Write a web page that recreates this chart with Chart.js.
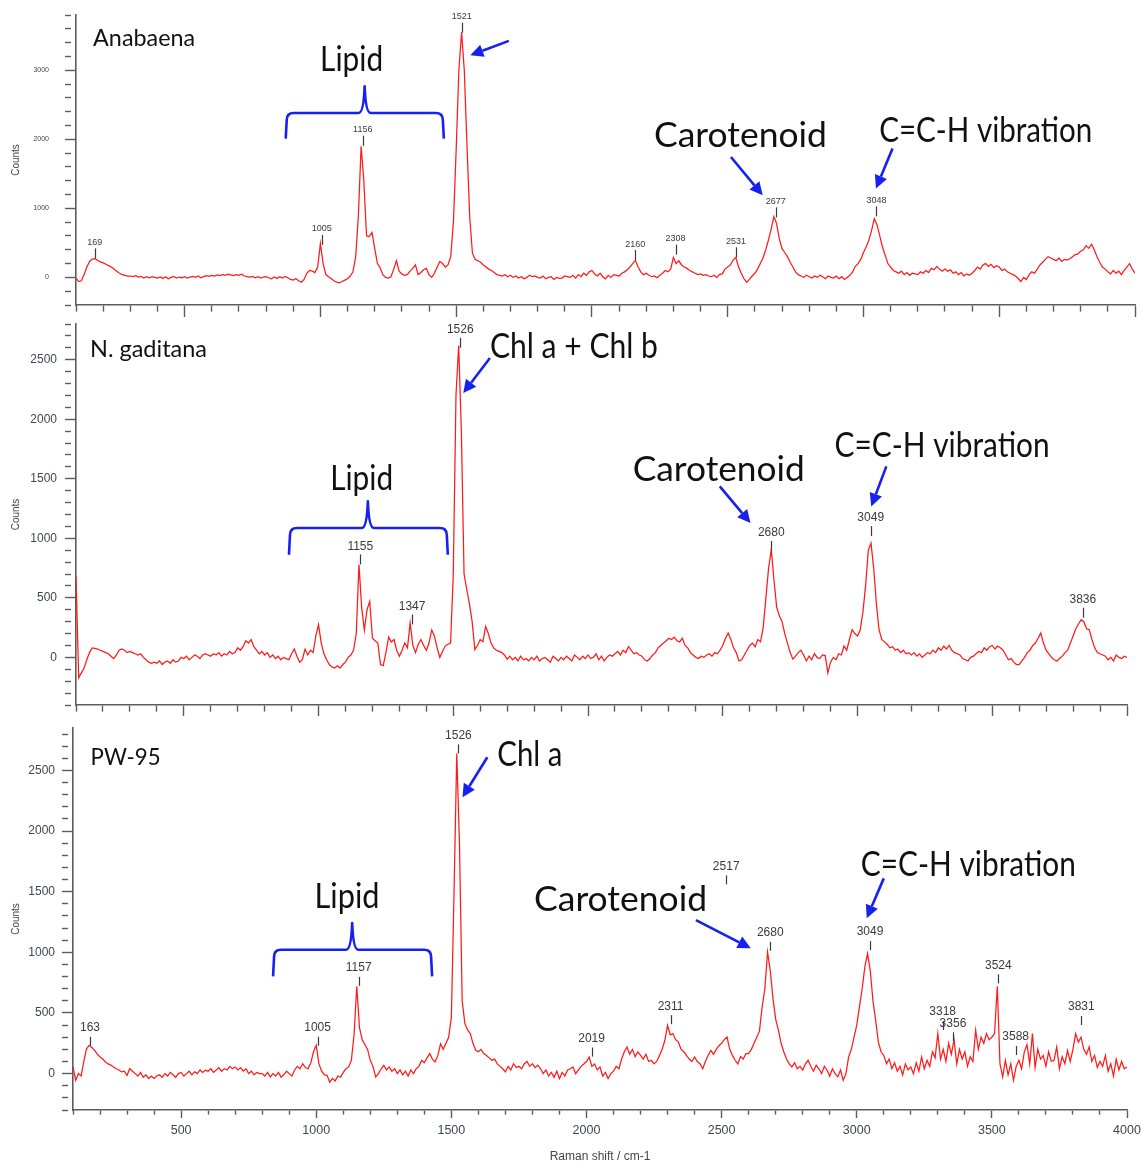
<!DOCTYPE html>
<html>
<head>
<meta charset="utf-8">
<script src="https://cdn.jsdelivr.net/npm/chart.js@4.4.1/dist/chart.umd.min.js"></script>
<style>
  html, body { margin: 0; padding: 0; background: #fff; }
  #wrap { position: relative; width: 1142px; height: 1164px; }
  #wrap canvas { position: absolute; left: 0; }
</style>
</head>
<body>
<div id="wrap">
  <canvas id="c1" width="1142" height="330" style="top:0"></canvas>
  <canvas id="c2" width="1142" height="410" style="top:310px"></canvas>
  <canvas id="c3" width="1142" height="449" style="top:715px"></canvas>
</div>
<script>
// Raman spectra, one count value every 10 cm-1 from 100 to 4000
const SHIFT_START = 100;
const SHIFT_STEP = 10;

const ANABAENA = [
  -10,-60,-50,40,150,230,265,270,245,225,
  210,190,170,150,120,90,60,40,30,20,
  20,10,25,5,15,-10,10,-5,10,0,
  -10,5,-15,10,-20,0,15,-10,5,-5,
  10,-10,5,15,0,20,-5,10,25,15,
  30,20,35,25,40,30,45,35,25,40,
  30,45,20,10,5,15,-5,10,-10,5,
  10,-5,-20,5,-15,10,-10,15,-5,-30,
  -40,-20,-50,-70,-30,60,100,90,70,150,
  490,200,40,10,-20,-50,-70,-80,-60,-40,
  -20,20,80,300,900,1900,1400,600,590,650,
  420,200,140,40,0,-10,10,120,240,90,
  50,30,40,90,130,180,40,70,110,130,
  40,0,60,150,230,200,150,180,300,800,
  1840,3000,3550,3000,1900,870,350,260,240,220,
  180,150,120,100,70,40,30,20,40,10,
  30,0,20,-10,10,-20,0,30,10,20,
  0,-10,20,-20,0,10,-30,0,-15,-10,
  20,10,0,30,-10,40,10,60,30,80,
  100,50,20,60,10,-20,30,0,40,30,
  20,60,80,110,150,200,250,150,80,40,
  60,30,10,20,-5,30,60,100,80,120,
  290,200,240,180,150,130,100,80,60,40,
  50,30,40,20,10,30,0,40,50,120,
  150,180,250,290,150,60,-20,-70,-30,20,
  60,120,200,280,400,540,700,880,780,560,
  420,360,300,220,150,80,40,20,0,30,
  10,-10,20,0,30,10,-20,20,0,-10,
  20,-20,10,-30,0,30,80,160,200,260,
  360,440,540,680,850,760,600,440,320,200,
  150,100,80,60,90,40,70,30,60,50,
  40,80,60,100,70,130,110,160,120,90,
  120,90,110,60,80,40,70,20,50,30,
  60,100,150,120,180,200,160,190,140,170,
  150,100,120,80,60,40,20,-20,-60,0,
  -30,40,80,60,120,180,220,260,300,280,
  260,240,280,230,260,250,270,300,330,340,
  380,400,460,420,480,400,300,220,150,120,
  80,50,100,60,90,40,100,150,200,120,
  60
];

const GADITANA = [
  680,-170,-130,-90,-20,40,80,75,70,60,
  50,40,30,10,-10,20,60,70,60,40,
  50,40,30,20,30,0,-20,-40,-50,-40,
  -50,-30,-60,-40,-30,-50,-20,-40,-30,0,
  -10,10,-20,0,20,10,-10,20,30,20,
  10,30,20,40,10,30,20,50,30,40,
  80,60,90,140,120,150,90,60,30,50,
  20,40,0,20,-10,10,-20,0,-10,-20,
  30,70,10,-40,-20,70,20,60,40,180,
  275,120,30,-20,-60,-80,-90,-70,-90,-60,
  -40,0,20,60,200,780,420,230,400,470,
  160,140,120,-60,-70,40,170,130,150,60,
  10,60,120,80,290,100,40,110,150,100,
  60,120,230,180,80,0,50,95,110,120,
  700,2200,2620,1900,700,570,450,300,65,100,
  150,130,260,200,120,80,60,50,40,20,
  -15,10,-20,0,-30,10,-20,-10,-30,0,
  -20,10,-30,-10,0,-20,-40,10,-10,-30,
  0,-20,10,-10,-30,20,0,-20,10,-10,
  20,-10,0,30,-20,10,-30,0,20,10,
  30,50,20,60,40,90,60,30,40,20,
  10,-20,-30,-10,20,40,80,100,120,140,
  160,150,170,140,130,160,100,80,40,20,
  0,-10,10,0,20,30,10,40,30,60,
  100,160,205,150,80,40,-30,-20,20,60,
  100,120,90,150,130,250,500,750,905,650,
  420,350,300,200,120,40,-15,10,40,60,
  20,-30,10,-20,30,0,-10,20,15,-130,
  -40,0,-20,30,20,95,60,150,232,200,
  180,230,380,600,900,960,750,450,230,150,
  130,110,80,90,60,70,40,60,30,40,
  20,40,10,30,0,20,40,30,60,40,
  80,60,95,70,100,60,40,30,20,-10,
  -20,-30,0,10,30,50,40,80,60,90,
  100,70,95,80,60,20,-20,-10,-40,-60,
  -60,-30,0,40,60,100,120,160,205,120,
  60,30,0,-20,-30,-10,10,40,60,120,
  180,240,280,316,300,240,232,150,80,40,
  30,20,10,-20,0,-30,20,0,-10,10,
  0
];

const PW95 = [
  55,-55,0,-20,100,205,233,215,192,160,
  137,120,96,80,70,55,40,30,14,20,
  -14,41,20,0,-20,10,-30,-10,-40,-20,
  -40,-20,-10,-30,0,-20,10,-10,-30,0,
  10,-20,0,20,-10,15,0,30,10,28,
  20,40,10,30,50,20,41,30,60,40,
  55,30,50,20,40,0,20,-10,10,0,
  0,-20,10,-27,0,-20,10,-30,-10,20,
  0,-20,30,60,40,82,50,40,90,180,
  233,80,20,-10,-14,-70,-40,-60,-20,-30,
  10,40,55,110,320,720,380,280,240,200,
  110,60,-27,0,40,68,30,55,20,40,
  0,30,-10,20,-20,30,0,40,60,110,
  90,130,165,120,96,150,246,200,250,300,
  466,1500,2640,1900,600,412,360,330,250,192,
  180,200,165,150,130,110,120,80,60,40,
  14,60,30,82,50,60,40,82,100,60,
  82,50,70,40,0,30,-20,10,-30,20,
  -41,10,-20,30,40,55,0,30,60,80,
  100,137,60,80,30,55,-20,10,-41,0,
  20,60,40,120,180,220,160,200,140,180,
  150,120,160,100,110,80,100,150,200,275,
  398,320,330,280,260,200,180,150,120,100,
  137,100,82,40,100,150,192,160,200,230,
  250,280,302,200,150,110,80,140,120,165,
  165,200,250,300,350,550,700,1003,850,620,
  450,360,250,180,120,80,55,90,40,60,
  30,80,110,60,20,70,40,0,60,30,
  -20,40,0,-27,30,-55,0,137,200,300,
  400,550,700,880,990,850,600,440,260,180,
  150,82,120,40,90,20,60,-10,80,30,
  55,0,90,20,137,40,110,60,180,130,
  330,120,200,100,250,160,280,80,200,120,
  180,60,140,100,357,200,300,250,330,280,
  300,330,720,80,-27,110,-10,80,-55,60,
  110,40,180,240,80,330,50,200,120,150,
  60,180,100,110,220,40,140,82,190,100,
  200,330,260,300,200,160,220,100,150,50,
  100,60,150,20,82,-20,120,30,100,40,
  55
];

// axis ticks (labelled ones; unlabelled ticks every X_MINOR / yMinor)
const X_MAJOR = [500, 1000, 1500, 2000, 2500, 3000, 3500, 4000];
const X_MINOR = 100;
const Y_MAJOR_ANABAENA = [0, 1000, 2000, 3000];
const Y_MAJOR_GADITANA = [0, 500, 1000, 1500, 2000, 2500];
const Y_MAJOR_PW95 = [0, 500, 1000, 1500, 2000, 2500];

// peak markers: position and height of the label (counts)
const PEAKS_ANABAENA = [169, 1005, 1156, 1521, 2160, 2308, 2531, 2677, 3048];
const PEAK_Y_ANABAENA = [507, 703, 2138, 3775, 483, 561, 522, 1101, 1116];
const PEAKS_GADITANA = [1155, 1347, 1526, 2680, 3049, 3836];
const PEAK_Y_GADITANA = [932, 428, 2751, 1045, 1170, 484];
const PEAKS_PW95 = [163, 1005, 1157, 1526, 2019, 2311, 2517, 2680, 3049, 3318, 3356, 3524, 3588, 3831];
const PEAK_Y_PW95 = [378, 378, 872, 2789, 289, 556, 1709, 1161, 1167, 508, 415, 893, 302, 549];

const RED = '#ff1a1a';
const BLUE = 'rgb(22,32,240)';
const AXIS = '#5c5c5c';
const TXT = '#404552';
const NOTE_FONT = 'Lato, "Open Sans", sans-serif';
const NUM_FONT = '"Liberation Sans", Arial, sans-serif';

// tick values from a to b every step (axis marks only)
function tickRange(a, b, step) {
  const out = [];
  for (let v = Math.ceil(a / step) * step; v <= b; v += step) out.push({ value: v });
  return out;
}

// braces, arrows, texts and peak labels, placed in data units
const notes = {
  id: 'notes',
  afterDatasetsDraw(chart, args, o) {
    const { ctx } = chart;
    const X = v => chart.scales.x.getPixelForValue(v);
    const Y = v => chart.scales.y.getPixelForValue(v);
    ctx.save();

    // curly brace over the lipid region
    const b = o.brace;
    const x0 = X(b.x0), x1 = X(b.x1), xm = X(b.xm);
    const yl = Y(b.line), ye = Y(b.end), yc = Y(b.cusp);
    const r = 7;
    ctx.strokeStyle = BLUE;
    ctx.lineWidth = 2.6;
    ctx.lineJoin = 'round';
    ctx.beginPath();
    ctx.moveTo(x0 - 1, ye);
    ctx.lineTo(x0, yl + r);
    ctx.quadraticCurveTo(x0, yl, x0 + r, yl);
    ctx.lineTo(xm - 6, yl);
    ctx.quadraticCurveTo(xm - 1, yl, xm, yc);
    ctx.quadraticCurveTo(xm + 1, yl, xm + 6, yl);
    ctx.lineTo(x1 - r, yl);
    ctx.quadraticCurveTo(x1, yl, x1, yl + r);
    ctx.lineTo(x1 + 1, ye);
    ctx.stroke();

    // arrows
    ctx.fillStyle = BLUE;
    o.arrows.forEach(a => {
      const tx = X(a[0]), ty = Y(a[1]), hx = X(a[2]), hy = Y(a[3]);
      const ang = Math.atan2(hy - ty, hx - tx);
      const len = 13, half = 6.5;
      const bx = hx - len * Math.cos(ang), by = hy - len * Math.sin(ang);
      ctx.beginPath();
      ctx.moveTo(tx, ty);
      ctx.lineTo(bx, by);
      ctx.stroke();
      ctx.beginPath();
      ctx.moveTo(hx, hy);
      ctx.lineTo(bx + half * Math.sin(ang), by - half * Math.cos(ang));
      ctx.lineTo(bx - half * Math.sin(ang), by + half * Math.cos(ang));
      ctx.closePath();
      ctx.fill();
    });

    // big labels, squeezed or stretched to the width they have in the figure
    ctx.fillStyle = '#111';
    ctx.textBaseline = 'middle';
    ctx.textAlign = 'left';
    o.texts.forEach(t => {
      ctx.font = t.size + 'px ' + NOTE_FONT;
      const m = ctx.measureText(t.text).width;
      const k = t.w / m;
      const left = t.align === 'center' ? X(t.x) - t.w / 2 : X(t.x);
      ctx.save();
      ctx.translate(left, Y(t.y));
      ctx.scale(k, 1);
      ctx.fillText(t.text, 0, 0);
      ctx.restore();
    });

    // peak labels with a short marker
    ctx.font = o.peakSize + 'px ' + NUM_FONT;
    ctx.textAlign = 'center';
    ctx.fillStyle = '#3a3a3a';
    ctx.strokeStyle = '#3a3a3a';
    ctx.lineWidth = 1.2;
    o.peaks.forEach((p, i) => {
      const px = X(p), py = Y(o.peakY[i]);
      ctx.fillText(String(p), px, py);
      const lx = Math.round(px) + 0.5;
      ctx.beginPath();
      ctx.moveTo(lx, py + o.tick[0]);
      ctx.lineTo(lx, py + o.tick[1]);
      ctx.stroke();
    });
    ctx.restore();
  }
};

function makePanel(id, p) {
  const points = p.values.map((v, i) => ({ x: SHIFT_START + i * SHIFT_STEP, y: v }));
  const xMajor = v => X_MAJOR.includes(v);
  const yMajor = v => p.yMajor.includes(v);
  return new Chart(document.getElementById(id), {
    type: 'line',
    data: { datasets: [{ data: points, borderColor: RED, borderWidth: 1.25, pointRadius: 0, tension: 0 }] },
    options: {
      responsive: false,
      animation: false,
      events: [],
      layout: { padding: p.padding },
      plugins: {
        legend: { display: false },
        tooltip: { enabled: false },
        notes: p.notes
      },
      scales: {
        x: {
          type: 'linear', min: 100, max: 4000,
          afterBuildTicks: s => { s.ticks = tickRange(100, 4000, X_MINOR); },
          afterFit: s => { s.height = p.xHeight; s.paddingLeft = 0; s.paddingRight = 0; },
          grid: {
            drawOnChartArea: false, tickLength: p.xTick[0], tickColor: AXIS, tickWidth: 1.4,
            tickBorderDash: c => (c.tick && xMajor(c.tick.value)) ? [] : [p.xTick[1], 100]
          },
          border: { color: AXIS, width: 1.6 },
          ticks: {
            display: p.xLabels, autoSkip: false, maxRotation: 0, padding: 5,
            color: TXT, font: { family: NUM_FONT, size: 12.5 },
            callback: v => xMajor(v) ? String(v) : ''
          },
          title: {
            display: p.xLabels, text: 'Raman shift / cm-1', color: TXT,
            font: { family: NUM_FONT, size: 12 }, padding: { top: 0, bottom: 0 }
          }
        },
        y: {
          min: p.yMin, max: p.yMax,
          afterBuildTicks: s => { s.ticks = tickRange(p.yMin, p.yMax, p.yMinor); },
          afterFit: s => { s.width = p.yWidth; s.paddingTop = 0; s.paddingBottom = 0; },
          grid: {
            drawOnChartArea: false, tickLength: 11, tickColor: AXIS, tickWidth: 1.4,
            tickBorderDash: c => (c.tick && yMajor(c.tick.value)) ? [] : [6, 100]
          },
          border: { color: AXIS, width: 1.6 },
          ticks: {
            autoSkip: false,
            padding: p.yPad, color: TXT, font: { family: NUM_FONT, size: p.ySize },
            callback: v => yMajor(v) ? String(v) : ''
          },
          title: {
            display: true, text: 'Counts', color: TXT,
            font: { family: NUM_FONT, size: 10 }, padding: { top: 10, bottom: 0 }
          }
        }
      }
    },
    plugins: [notes]
  });
}

makePanel('c1', {
  values: ANABAENA, yMin: -400, yMax: 3800, yMajor: Y_MAJOR_ANABAENA, yMinor: 200,
  padding: { left: 0, right: 7, top: 15, bottom: 0 }, yWidth: 76, xHeight: 25,
  xLabels: false, yPad: 16, ySize: 7, xTick: [12, 6],
  notes: {
    brace: { x0: 876, x1: 1451, xm: 1163, line: 2381, end: 2010, cusp: 2768 },
    arrows: [[1694, 3425, 1552, 3217], [2512, 1743, 2629, 1188], [3107, 1865, 3046, 1286]],
    texts: [
      { text: 'Anabaena', x: 163, y: 3464, size: 23, w: 102, align: 'left' },
      { text: 'Lipid', x: 1115, y: 3145, size: 34, w: 63, align: 'center' },
      { text: 'Carotenoid', x: 2547, y: 2043, size: 34, w: 173, align: 'center' },
      { text: 'C=C-H vibration', x: 3058, y: 2116, size: 34, w: 213, align: 'left' }
    ],
    peaks: PEAKS_ANABAENA, peakY: PEAK_Y_ANABAENA, peakSize: 9, tick: [6, 16]
  }
});

makePanel('c2', {
  values: GADITANA, yMin: -400, yMax: 2800, yMajor: Y_MAJOR_GADITANA, yMinor: 100,
  padding: { left: 0, right: 15, top: 14, bottom: 0 }, yWidth: 76, xHeight: 15,
  xLabels: false, yPad: 8, ySize: 12, xTick: [11, 6],
  notes: {
    brace: { x0: 894, x1: 1476, xm: 1183, line: 1087, end: 862, cusp: 1310 },
    arrows: [[1636, 2514, 1537, 2220], [2489, 1436, 2603, 1128], [3107, 1604, 3051, 1268]],
    texts: [
      { text: 'N. gaditana', x: 152, y: 2583, size: 23, w: 117, align: 'left' },
      { text: 'Lipid', x: 1160, y: 1500, size: 34, w: 63, align: 'center' },
      { text: 'Chl a + Chl b', x: 1636, y: 2606, size: 34, w: 168, align: 'left' },
      { text: 'Carotenoid', x: 2485, y: 1576, size: 34, w: 172, align: 'center' },
      { text: 'C=C-H vibration', x: 2915, y: 1772, size: 34, w: 215, align: 'left' }
    ],
    peaks: PEAKS_GADITANA, peakY: PEAK_Y_GADITANA, peakSize: 12, tick: [8, 18]
  }
});

makePanel('c3', {
  values: PW95, yMin: -300, yMax: 2850, yMajor: Y_MAJOR_PW95, yMinor: 100,
  padding: { left: 0, right: 15, top: 13, bottom: 0 }, yWidth: 73, xHeight: 54,
  xLabels: true, yPad: 7, ySize: 12, xTick: [8, 4],
  notes: {
    brace: { x0: 844, x1: 1425, xm: 1133, line: 1022, end: 802, cusp: 1242 },
    arrows: [[1633, 2609, 1541, 2279], [2405, 1265, 2608, 1034], [3100, 1610, 3037, 1281]],
    texts: [
      { text: 'PW-95', x: 165, y: 2610, size: 23, w: 70, align: 'left' },
      { text: 'Lipid', x: 1114, y: 1456, size: 34, w: 65, align: 'center' },
      { text: 'Chl a', x: 1670, y: 2626, size: 34, w: 65, align: 'left' },
      { text: 'Carotenoid', x: 2126, y: 1430, size: 34, w: 173, align: 'center' },
      { text: 'C=C-H vibration', x: 3015, y: 1717, size: 34, w: 215, align: 'left' }
    ],
    peaks: PEAKS_PW95, peakY: PEAK_Y_PW95, peakSize: 12, tick: [9, 18]
  }
});
</script>
</body>
</html>
